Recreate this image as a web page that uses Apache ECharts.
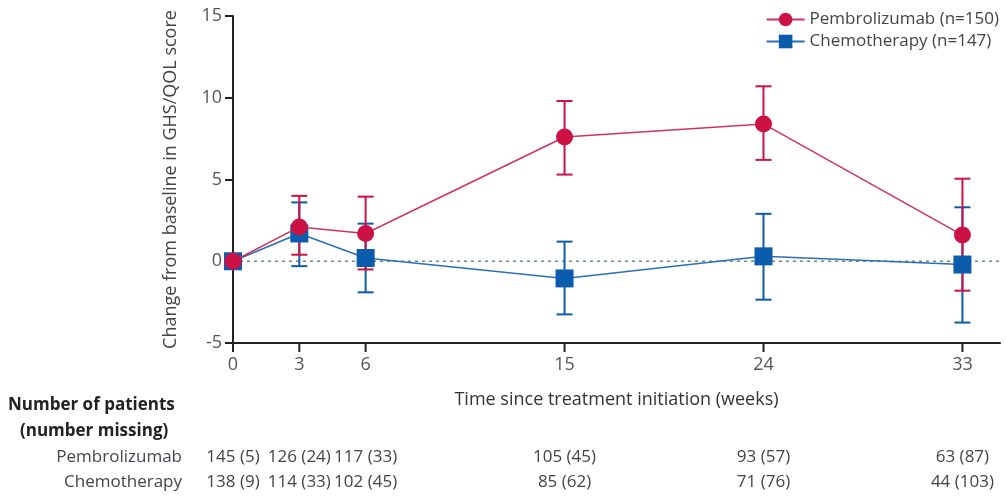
<!DOCTYPE html>
<html>
<head>
    <meta charset="utf-8">
    <script src="https://cdn.jsdelivr.net/npm/echarts@6/dist/echarts.min.js"></script>
</head>
<body style="margin:0;background:#fff;">
    <div id="container" style="width:1006px;height:498px;"></div>
    <script type="text/javascript">
        // data
        var weeks = [0, 3, 6, 15, 24, 33];
        var pembroMean = [0, 2.1, 1.7, 7.6, 8.4, 1.6];
        var pembroLow = [0, 0.4, -0.5, 5.3, 6.2, -1.8];
        var pembroHigh = [0, 4.0, 3.95, 9.8, 10.7, 5.05];
        var chemoMean = [0, 1.7, 0.2, -1.05, 0.3, -0.2];
        var chemoLow = [0, -0.3, -1.9, -3.25, -2.35, -3.75];
        var chemoHigh = [0, 3.6, 2.3, 1.2, 2.9, 3.3];
        var pembroCounts = ['145 (5)', '126 (24)', '117 (33)', '105 (45)', '93 (57)', '63 (87)'];
        var chemoCounts = ['138 (9)', '114 (33)', '102 (45)', '85 (62)', '71 (76)', '44 (103)'];

        var red = '#cc1145';
        var blue = '#0b5cad';
        var font = 'Open Sans';

        function pairs(ys) {
            var out = [];
            for (var i = 0; i < weeks.length; i++) out.push([weeks[i], ys[i]]);
            return out;
        }
        function bars(lo, hi) {
            var out = [];
            for (var i = 0; i < weeks.length; i++) {
                if (lo[i] !== hi[i]) out.push([weeks[i], lo[i], hi[i]]);
            }
            return out;
        }
        function errorBar(color) {
            return function (params, api) {
                var p0 = api.coord([api.value(0), api.value(1)]);
                var p1 = api.coord([api.value(0), api.value(2)]);
                var w = 8;
                var st = { stroke: color, lineWidth: 2 };
                return {
                    type: 'group',
                    children: [
                        { type: 'line', shape: { x1: p0[0], y1: p0[1], x2: p1[0], y2: p1[1] }, style: st },
                        { type: 'line', shape: { x1: p0[0] - w, y1: p0[1], x2: p0[0] + w, y2: p0[1] }, style: st },
                        { type: 'line', shape: { x1: p1[0] - w, y1: p1[1], x2: p1[0] + w, y2: p1[1] }, style: st }
                    ]
                };
            };
        }

        var dom = document.getElementById('container');
        var myChart = echarts.init(dom);

        var option = {
            animation: false,
            textStyle: { fontFamily: font },
            grid: { left: 233, right: 6, top: 16, bottom: 155 },
            legend: {
                orient: 'vertical',
                right: 2,
                top: 6,
                itemGap: 5,
                itemWidth: 38,
                itemHeight: 17,
                textStyle: { fontSize: 17, color: '#444', fontFamily: font },
                data: ['Pembrolizumab (n=150)', 'Chemotherapy (n=147)']
            },
            xAxis: {
                type: 'value',
                min: 0,
                max: 34.7,
                interval: 3,
                name: 'Time since treatment initiation (weeks)',
                nameLocation: 'middle',
                nameGap: 48,
                nameTextStyle: { fontSize: 18, color: '#333' },
                axisLine: { onZero: false, lineStyle: { color: '#222', width: 2 } },
                axisTick: { show: false },
                axisLabel: { show: false },
                splitLine: { show: false }
            },
            yAxis: {
                type: 'value',
                min: -5,
                max: 15,
                interval: 5,
                name: 'Change from baseline in GHS/QOL score',
                nameLocation: 'middle',
                nameGap: 53,
                nameTextStyle: { fontSize: 18, color: '#444' },
                axisLine: { show: true, lineStyle: { color: '#222', width: 2 } },
                axisTick: { show: true, length: 8, lineStyle: { color: '#222', width: 2 } },
                axisLabel: { fontSize: 18, color: '#555', margin: 11 },
                splitLine: { show: false }
            },
            series: [
                {
                    type: 'line',
                    name: 'baseline',
                    data: [[0, 0], [34.7, 0]],
                    symbol: 'none',
                    silent: true,
                    lineStyle: { color: '#6f8a80', width: 1.5, type: [3, 4] },
                    z: 1
                },
                {
                    type: 'custom',
                    name: 'chemoErr',
                    renderItem: errorBar(blue),
                    data: bars(chemoLow, chemoHigh),
                    z: 2
                },
                {
                    type: 'custom',
                    name: 'pembroErr',
                    renderItem: errorBar(red),
                    data: bars(pembroLow, pembroHigh),
                    z: 2
                },
                {
                    type: 'line',
                    name: 'Chemotherapy (n=147)',
                    data: pairs(chemoMean),
                    symbol: 'rect',
                    symbolSize: 18,
                    itemStyle: { color: blue },
                    lineStyle: { color: '#2b6fb8', width: 1.5 },
                    z: 3
                },
                {
                    type: 'line',
                    name: 'Pembrolizumab (n=150)',
                    data: pairs(pembroMean),
                    symbol: 'circle',
                    symbolSize: 17,
                    itemStyle: { color: red },
                    lineStyle: { color: '#d2325e', width: 1.5 },
                    z: 4
                }
            ]
        };
        myChart.setOption(option);

        // x tick marks, tick labels and the patient table placed via the axis scale
        var graphics = [];
        var y0 = myChart.convertToPixel({ gridIndex: 0 }, [0, -5])[1];
        for (var i = 0; i < weeks.length; i++) {
            var px = myChart.convertToPixel({ gridIndex: 0 }, [weeks[i], -5])[0];
            graphics.push({ type: 'line', shape: { x1: px, y1: y0, x2: px, y2: y0 + 9 }, style: { stroke: '#222', lineWidth: 2 } });
            graphics.push({ type: 'text', x: px, y: y0 + 13, style: { text: String(weeks[i]), fontSize: 18, fill: '#555', fontFamily: font, textAlign: 'center', textVerticalAlign: 'top' } });
            graphics.push({ type: 'text', x: px, y: 457, style: { text: pembroCounts[i], fontSize: 17, fill: '#444', fontFamily: font, textAlign: 'center', textVerticalAlign: 'middle' } });
            graphics.push({ type: 'text', x: px, y: 482, style: { text: chemoCounts[i], fontSize: 17, fill: '#444', fontFamily: font, textAlign: 'center', textVerticalAlign: 'middle' } });
        }
        graphics.push({ type: 'text', x: 8, y: 405, style: { text: 'Number of patients', fontSize: 17, fontWeight: 'bold', fill: '#222', fontFamily: font, textVerticalAlign: 'middle' } });
        graphics.push({ type: 'text', x: 20, y: 431, style: { text: '(number missing)', fontSize: 17, fontWeight: 'bold', fill: '#222', fontFamily: font, textVerticalAlign: 'middle' } });
        graphics.push({ type: 'text', x: 182, y: 457, style: { text: 'Pembrolizumab', fontSize: 17, fill: '#445', fontFamily: font, textAlign: 'right', textVerticalAlign: 'middle' } });
        graphics.push({ type: 'text', x: 182, y: 482, style: { text: 'Chemotherapy', fontSize: 17, fill: '#444', fontFamily: font, textAlign: 'right', textVerticalAlign: 'middle' } });
        myChart.setOption({ graphic: graphics });
    </script>
</body>
</html>
